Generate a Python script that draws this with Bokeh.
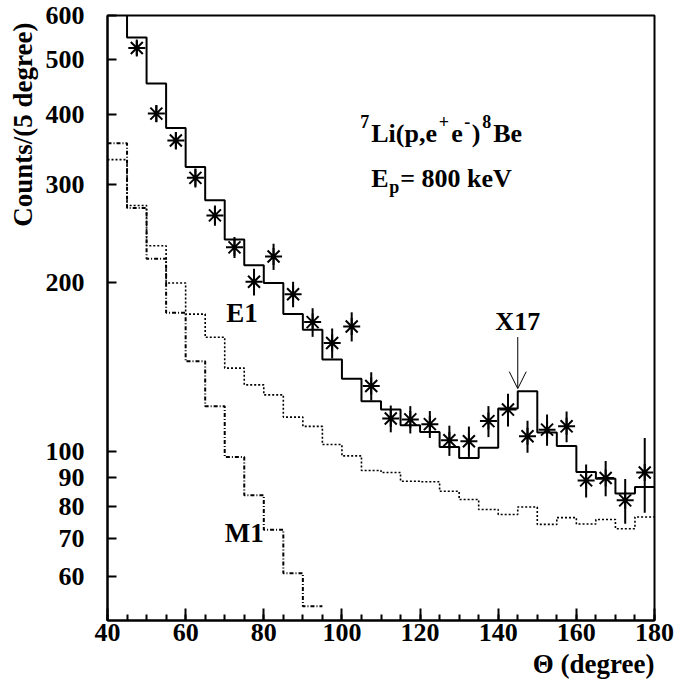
from bokeh.plotting import figure
from bokeh.models import FixedTicker, PrintfTickFormatter, Label, Arrow, OpenHead, Range1d, Title
from bokeh.embed import file_html
from bokeh.resources import INLINE

# ---------------- data ----------------
bin_low = [40, 45, 50, 55, 60, 65, 70, 75, 80, 85, 90, 95, 100, 105,
           110, 115, 120, 125, 130, 135, 140, 145, 150, 155, 160, 165, 170, 175]
bin_end = 180
fit_total = [700, 548, 454, 378, 322, 281, 239, 215, 200, 176, 165, 146, 135, 123,
             119, 111.5, 108.5, 102, 97.5, 101.7, 119.4, 128.2, 108.2, 102.4, 92, 89.5, 84.2, 86.5]
e1_sim = [332, 275, 233, 200, 176, 160, 141, 131.6, 126.3, 115.3, 111, 103, 98.3, 92.6,
          91.8, 88.6, 88.4, 85, 82.2, 78.9, 77.3, 79.7, 74.2, 76.3, 74.3, 75.7, 72.9, 76.5]
m1_low = [40, 45, 50, 55, 60, 65, 70, 75, 80, 85, 90]
m1_end = 95
m1_sim = [355, 272, 221, 177, 145, 120.6, 97.9, 83.6, 72.6, 60.7, 53.0]

theta = [47.5, 52.5, 57.5, 62.5, 67.5, 72.5, 77.5, 82.5, 87.5, 92.5, 97.5, 102.5, 107.5,
         112.5, 117.5, 122.5, 127.5, 132.5, 137.5, 142.5, 147.5, 152.5, 157.5, 162.5,
         167.5, 172.5, 177.5]
counts = [525, 401, 359, 308, 264, 231.5, 201, 223, 191, 170.3, 156.3, 167.3, 131,
          114.6, 114.2, 112, 104.8, 104.4, 113.4, 118.9, 106.6, 109.5, 111, 88.9,
          89.8, 81.9, 91.8]
count_err = [16, 14, 13, 12, 11, 10, 11, 12, 10, 10, 9.6, 10, 7.6,
             6.3, 6.4, 6.2, 6.5, 6.5, 7.2, 8, 7, 7, 7, 6,
             6.5, 7.5, 14]

x_major = [40, 60, 80, 100, 120, 140, 160, 180]
x_minor = [40, 45, 50, 55, 60, 65, 70, 75, 80, 85, 90, 95, 100, 105, 110, 115, 120,
           125, 130, 135, 140, 145, 150, 155, 160, 165, 170, 175, 180]
y_major = [60, 70, 80, 90, 100, 200, 300, 400, 500, 600]

x17_theta = 145
x17_arrow_top = 160.2
x17_arrow_tip = 129.6
x17_text_y = 164.6
e1_pos = (70.4, 170.3)
m1_pos = (70.0, 69.0)
react_pos = (107.5, 356.6)
ep_pos = (107.5, 296.5)

FONT = "Liberation Serif"
TEXT_LIFT = 9  # px correction for baseline placement

# ---------------- figure ----------------
p = figure(width=675, height=685, title=None,
           x_range=Range1d(40, 180), y_range=Range1d(50, 600), y_axis_type="log",
           output_backend="svg", toolbar_location=None,
           min_border_left=106, min_border_right=21, min_border_top=15, min_border_bottom=65)
p.grid.visible = False
p.outline_line_color = "black"
p.outline_line_width = 2
p.outline_line_alpha = 1.0

xa = p.xaxis[0]
ya = p.yaxis[0]
xa.ticker = FixedTicker(ticks=x_major, minor_ticks=x_minor)
ya.ticker = FixedTicker(ticks=y_major, minor_ticks=[])
ya.formatter = PrintfTickFormatter(format="%d")
for ax in (xa, ya):
    ax.axis_line_width = 2
    ax.axis_line_color = "black"
    ax.major_tick_line_width = 2
    ax.minor_tick_line_width = 2
    ax.major_tick_out = 0
    ax.minor_tick_out = 0
    ax.major_label_text_font = FONT
    ax.major_label_text_font_style = "bold"
    ax.major_label_text_font_size = "26px"
    ax.major_label_text_color = "black"
    ax.axis_label = None
xa.major_tick_in = 12
xa.minor_tick_in = 6
xa.major_label_standoff = 3
ya.major_tick_in = 9
ya.minor_tick_in = 0
ya.major_label_standoff = 23

# axis titles (ROOT style: at the end of the axes)
p.add_layout(Title(text="Counts/(5 degree)", align="right", offset=7, standoff=10,
                   text_font=FONT, text_font_style="bold", text_font_size="27px",
                   text_color="black"), "left")
p.add_layout(Title(text="\u0398 (degree)", align="right", offset=0, standoff=6,
                   text_font=FONT, text_font_style="bold", text_font_size="27px",
                   text_color="black"), "below")

# histograms
p.step(x=bin_low + [bin_end], y=e1_sim + [e1_sim[-1]], mode="after",
       line_color="black", line_width=1.6, line_dash="2 2")
p.step(x=m1_low + [m1_end], y=m1_sim + [m1_sim[-1]], mode="after",
       line_color="black", line_width=2, line_dash="4 2 1 2")
p.step(x=bin_low + [bin_end], y=fit_total + [fit_total[-1]], mode="after",
       line_color="black", line_width=2)

# data points
lo = [c - e for c, e in zip(counts, count_err)]
hi = [c + e for c, e in zip(counts, count_err)]
p.segment(x0=theta, y0=lo, x1=theta, y1=hi, line_color="black", line_width=2)
p.scatter(theta, counts, marker="asterisk", size=17, line_color="black", line_width=2)


def add_label(x, y, text, size, dx=0, dy=0, align="left"):
    p.add_layout(Label(x=x, y=y, x_offset=dx, y_offset=dy + TEXT_LIFT, text=text,
                       text_font=FONT, text_font_style="bold",
                       text_font_size=f"{size}px", text_color="black",
                       text_align=align, text_baseline="alphabetic"))


# curve labels
add_label(e1_pos[0], e1_pos[1], "E1", 27)
add_label(m1_pos[0], m1_pos[1], "M1", 27)
add_label(x17_theta, x17_text_y, "X17", 26, align="center")
p.add_layout(Arrow(end=OpenHead(size=17, line_width=1, line_color="black"),
                   x_start=x17_theta, y_start=x17_arrow_top,
                   x_end=x17_theta, y_end=x17_arrow_tip,
                   line_width=1, line_color="black"))

# reaction text: 7Li(p,e+e-)8Be
rx, ry = react_pos
add_label(rx, ry, "7", 18, dx=-11, dy=12)
add_label(rx, ry, "Li(p,e", 26, dx=0)
add_label(rx, ry, "+", 18, dx=67.5, dy=12)
add_label(rx, ry, "e", 26, dx=80)
add_label(rx, ry, "-", 18, dx=93, dy=12)
add_label(rx, ry, ")", 26, dx=100.5)
add_label(rx, ry, "8", 18, dx=111, dy=12)
add_label(rx, ry, "Be", 26, dx=122)

ex, ey = ep_pos
add_label(ex, ey, "E", 26)
add_label(ex, ey, "p", 18, dx=18, dy=-9)
add_label(ex, ey, "= 800 keV", 26, dx=29)

open("out.html", "w").write(file_html(p, INLINE))
